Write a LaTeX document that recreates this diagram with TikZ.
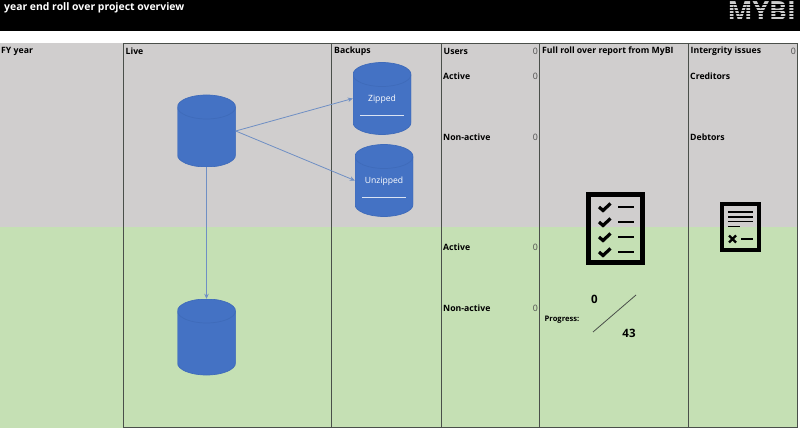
\documentclass[tikz,border=0pt]{standalone}
\usepackage{fontspec}
\setmainfont{Open Sans}
\usepackage{xcolor}
\usetikzlibrary{arrows.meta}
\definecolor{ovBlue}{HTML}{4472C4}
\definecolor{ovEdge}{HTML}{3F6BBA}
\definecolor{ovArrow}{HTML}{6F8FC4}
\definecolor{ovGray}{HTML}{D0CECE}
\definecolor{ovGreen}{HTML}{C5E0B4}
\definecolor{ovLine}{HTML}{4A4F4A}
\tikzset{
  heading/.style={
    anchor=west,
    inner sep=0pt,
    font=\fontsize{8.7}{10}\selectfont\bfseries
  },
  count/.style={
    anchor=east,
    inner sep=0pt,
    text=black!70,
    font=\fontsize{8.8}{10}\selectfont
  },
  dbase/.style={
    rectangle,
    minimum width=58pt,
    minimum height=72pt,
    inner sep=0pt,
    text height=6.2pt,
    text depth=0pt,
    text=white,
    font=\fontsize{8.6}{10}\selectfont,
    path picture={
      \path[fill=ovBlue, draw=ovEdge, line width=0.7pt]
        ([yshift=-12pt]path picture bounding box.north west)
        arc[start angle=180, end angle=0, x radius=29pt, y radius=12pt]
        -- ([yshift=12pt]path picture bounding box.south east)
        arc[start angle=0, end angle=-180, x radius=29pt, y radius=12pt]
        -- cycle;
      \draw[ovEdge, line width=0.7pt]
        ([yshift=-12pt]path picture bounding box.north west)
        arc[start angle=180, end angle=360, x radius=29pt, y radius=12pt];
    }
  },
  link/.style={-{Stealth[length=5pt,width=4.5pt]}, draw=ovArrow, line width=0.8pt},
  column/.style={draw=ovLine, line width=0.9pt},
  frame/.style={draw=black, line width=5pt},
  tickmark/.style={draw=black, line width=3.2pt},
  dashmark/.style={draw=black, line width=2.6pt}
}
\begin{document}
\begin{tikzpicture}[x=1pt, y=-1pt]
  \useasboundingbox (0,0) rectangle (800,430);
  % bands
  \fill[black] (0,0) rectangle (800,31);
  \fill[ovGray] (0,43) rectangle (798,227);
  \fill[ovGreen] (0,227) rectangle (798,428);
  % columns
  \draw[column] (123.5,43.5) -- (797.5,43.5);
  \draw[column] (123.5,427.5) -- (797.5,427.5);
  \foreach \colx in {123.5,331,441,539.5,688,797.5}
    \draw[column] (\colx,43.5) -- (\colx,427.5);
  % header
  \node[anchor=west, inner sep=0pt, text=white, font=\fontsize{10.4}{12}\selectfont\bfseries] (title) at (4,8) {year end roll over project overview};
  \node[anchor=east, inner sep=0pt, text=black!20, font=\fontsize{26.5}{28}\selectfont\bfseries] (logo) at (796,11.5) {MYBI};
  \foreach \stripey in {4.5,7.5,10.5,13.5,16.5,19.5}
    \draw[black, line width=0.8pt] (726,\stripey) -- (798,\stripey);
  % column headings
  \node[heading] (fy) at (1,51) {FY year};
  \node[heading] (live) at (125.5,51) {Live};
  \node[heading] (backups) at (334,51) {Backups};
  \node[heading] (users) at (443.5,51) {Users};
  \node[count] (userscount) at (538,51) {0};
  \node[heading] (report) at (542,51) {Full roll over report from MyBI};
  \node[heading] (issues) at (690.5,51) {Intergrity issues};
  \node[count] (issuescount) at (796,51) {0};
  % rows
  \node[heading] (active) at (443,76) {Active};
  \node[count] (activecount) at (538,76) {0};
  \node[heading] (nonactive) at (443,137) {Non-active};
  \node[count] (nonactivecount) at (538,137) {0};
  \node[heading] (active2) at (443,247) {Active};
  \node[count] (active2count) at (538,247) {0};
  \node[heading] (nonactive2) at (443,308) {Non-active};
  \node[count] (nonactive2count) at (538,308) {0};
  \node[heading] (creditors) at (690,76) {Creditors};
  \node[heading] (debtors) at (690,137) {Debtors};
  % databases
  \node[dbase] (livetop) at (206.5,131) {};
  \node[dbase, minimum height=76pt] (livebottom) at (206.5,337) {};
  \node[dbase] (zipped) at (382,98.5) {Zipped};
  \node[dbase] (unzipped) at (384,180.5) {Unzipped};
  \draw[white!80!ovBlue, line width=0.8pt] ([xshift=-22pt, yshift=-16.5pt]zipped.center) -- ([xshift=22pt, yshift=-16.5pt]zipped.center);
  \draw[white!80!ovBlue, line width=0.8pt] ([xshift=-22pt, yshift=-16.5pt]unzipped.center) -- ([xshift=22pt, yshift=-16.5pt]unzipped.center);
  \draw[link] (livetop.east) -- (zipped.west);
  \draw[link] (livetop.east) -- (unzipped.west);
  \draw[link] (livetop.south) -- (livebottom.north);
  % checklist icon
  \draw[frame] (588.5,194.5) rectangle (642.5,262.5);
  \foreach \rowy in {207,222,237,252} {
    \draw[tickmark] (599,\rowy) -- (603,\rowy+3.5) -- (610.5,\rowy-3.5);
    \draw[dashmark] (618,\rowy) -- (634,\rowy);
  }
  % issues icon
  \draw[draw=black, line width=4pt] (722,204) rectangle (759,250);
  \foreach \rowy in {212,217,221.5}
    \draw[draw=black, line width=1.6pt] (728,\rowy) -- (753,\rowy);
  \draw[draw=black, line width=1.6pt] (728,226.5) -- (740,226.5);
  \draw[draw=black, line width=2.2pt] (729,235.5) -- (736,242.5) (736,235.5) -- (729,242.5);
  \draw[draw=black, line width=1.4pt] (741,239) -- (753,239);
  % progress
  \node[heading, font=\fontsize{7.6}{9}\selectfont\bfseries] (progress) at (544.5,320) {Progress:};
  \node[inner sep=0pt, font=\fontsize{11.5}{13}\selectfont\bfseries] (done) at (594.5,299) {0};
  \node[inner sep=0pt, font=\fontsize{11.5}{13}\selectfont\bfseries] (total) at (629,333) {43};
  \draw[draw=ovLine, line width=0.8pt] (593,332) -- (636,295);
\end{tikzpicture}
\end{document}
